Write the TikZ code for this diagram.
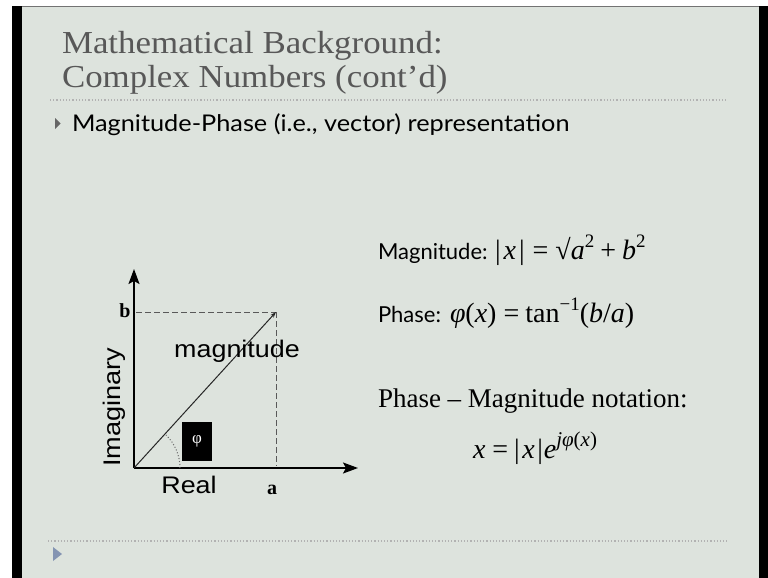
\documentclass[tikz,border=0pt]{standalone}
\usepackage{fontspec}
\setmainfont{Liberation Serif}
\newfontfamily\gillf{Lato}
\newfontfamily\arialf{Liberation Sans}
\usetikzlibrary{arrows.meta,calc}
\definecolor{slidebg}{RGB}{221,227,221}
\definecolor{titlegray}{RGB}{88,88,88}
\definecolor{bulletblue}{RGB}{132,148,178}
\newcommand{\fsz}[1]{\fontsize{#1}{#1}\selectfont}
\newcommand{\vi}[1]{\textit{#1}}
\newcommand{\sups}[2][19]{\raisebox{0.42em}{\fsz{#1}#2}}
\tikzset{
  axisline/.style={line width=1.7pt, -{Stealth[length=15pt,width=11pt,inset=3pt]}},
  guide/.style={line width=1pt, dash pattern=on 5.5pt off 3.5pt, black!65},
  txt/.style={inner sep=0pt, outer sep=0pt},
}
\begin{document}
\begin{tikzpicture}[x=1pt,y=-1pt]
\useasboundingbox (0,0) rectangle (768,578);
\fill[white] (0,0) rectangle (768,578);
\fill[black] (12,6) rectangle (22,578);
\fill[black] (759,6) rectangle (768,578);
\fill[slidebg] (22,6) rectangle (759,578);
\draw[black!55, line width=0.8pt] (22,6.4) -- (759,6.4);

% title
\node[txt, anchor=base west, text=titlegray] (t1) at (62,54) {\fsz{32}\scalebox{1.09}[1]{Mathematical Background:}};
\node[txt, anchor=base west, text=titlegray] (t2) at (62,88) {\fsz{32}\scalebox{1.09}[1]{Complex Numbers (cont'd)}};
\draw[black!30, line width=1.2pt, dotted] (50,100) -- (727,100);
\draw[black!30, line width=1.2pt, dotted] (48,541) -- (727,541);

% bullet
\fill[black!60] (55,118) -- (60.5,123.5) -- (55,129) -- cycle;
\node[txt, anchor=base west] (b1) at (72,131) {\gillf\fsz{23}\scalebox{1.1}[1]{Magnitude-Phase (i.e., vector) representation}};
\fill[bulletblue] (53,547) -- (62,554) -- (53,561) -- cycle;

% diagram
\coordinate (O) at (134,468);
\coordinate (Ytip) at (134,269);
\coordinate (Xtip) at (358,468);
\coordinate (P) at (276,312);
\coordinate (Pb) at (136,312);
\coordinate (Pa) at (276,466);
\coordinate (A0) at (180,468);
\draw[guide] (Pb) -- (P);
\draw[guide] (P) -- (Pa);
\draw[axisline] (O) -- (Ytip);
\draw[axisline] (O) -- (Xtip);
\draw[line width=1pt, black!85, -{Stealth[length=6pt,width=4pt]}] (O) -- (P);
\draw[line width=1pt, dotted, black!60] (A0) arc[start angle=0, end angle=-46, radius=46];

\node[txt, anchor=base] (lb) at (125,317) {\fsz{20}\bfseries b};
\node[txt, anchor=base] (la) at (272,494) {\fsz{20}\bfseries a};
\node[txt, anchor=base] (lreal) at (189,493) {\arialf\fsz{24}\scalebox{1.12}[1]{Real}};
\node[txt, rotate=90] (limag) at (114,407) {\arialf\fsz{24}\scalebox{1.13}[1]{Imaginary}};
\node[txt, anchor=base] (lmag) at (237,357) {\arialf\fsz{24}\scalebox{1.12}[1]{magnitude}};
\node[fill=black, minimum width=30pt, minimum height=39pt, inner sep=0pt, text=white] (phibox) at (197,441.5) {\fsz{17}φ};

% formulas
\node[txt, anchor=base west] (m1) at (378,259) {\gillf\fsz{22}Magnitude:};
\node[txt, anchor=base west] (m2) at (495,259) {\fsz{28}|\hspace{3pt}\vi{x}\hspace{3pt}|\hspace{8pt}=\hspace{7pt}√\vi{a}\sups{2}\hspace{6pt}+\hspace{6pt}\vi{b}\sups{2}};
\node[txt, anchor=base west] (p1) at (378,322) {\gillf\fsz{22}Phase:};
\node[txt, anchor=base west] (p2) at (450,322) {\fsz{28}\vi{φ}(\vi{x})\hspace{7pt}=\hspace{6pt}tan\sups{−1}(\vi{b}/\vi{a})};
\node[txt, anchor=base west] (n1) at (378,407) {\fsz{27}Phase – Magnitude notation:};
\node[txt, anchor=base west] (n2) at (473,458) {\fsz{28}\vi{x}\hspace{7pt}=\hspace{6pt}|\hspace{2.5pt}\vi{x}\hspace{2.5pt}|\hspace{1pt}\vi{e}\sups[21]{\vi{jφ}(\vi{x})}};
\end{tikzpicture}
\end{document}
